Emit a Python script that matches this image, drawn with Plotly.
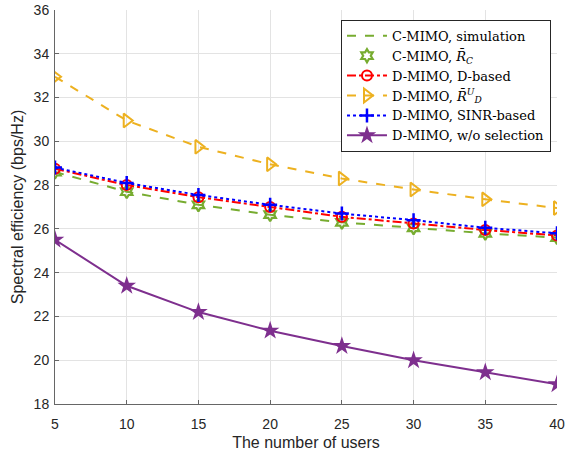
import plotly.graph_objects as go

users = [5, 10, 15, 20, 25, 30, 35, 40]
cmimo_sim = [28.6, 27.7, 27.1, 26.65, 26.3, 26.05, 25.8, 25.6]
cmimo_rc = [28.6, 27.7, 27.1, 26.65, 26.3, 26.05, 25.8, 25.6]
dmimo_d = [28.75, 28.0, 27.45, 27.0, 26.55, 26.25, 25.95, 25.7]
dmimo_rdu = [32.95, 30.95, 29.75, 28.95, 28.3, 27.8, 27.35, 26.95]
dmimo_sinr = [28.8, 28.1, 27.55, 27.1, 26.7, 26.4, 26.05, 25.8]
dmimo_wo = [25.5, 23.4, 22.2, 21.35, 20.65, 20.0, 19.45, 18.9]

green = "#77AC30"
yellow = "#EDB120"
red = "#FF0000"
blue = "#0000FF"
purple = "#7E2F8E"

fig = go.Figure()
fig.add_trace(go.Scatter(x=users, y=cmimo_sim, mode="lines", name="C-MIMO, simulation",
                         line=dict(color=green, width=2, dash="dash")))
fig.add_trace(go.Scatter(x=users, y=cmimo_rc, mode="markers", name="C-MIMO, <i>R̄</i><sub><i>C</i></sub>",
                         marker=dict(symbol="hexagram-open", size=10, color=green, line=dict(width=2.2, color=green))))
fig.add_trace(go.Scatter(x=users, y=dmimo_d, mode="lines+markers", name="D-MIMO, D-based",
                         line=dict(color=red, width=2, dash="dashdot"),
                         marker=dict(symbol="circle-open", size=10, color=red, line=dict(width=2, color=red))))
fig.add_trace(go.Scatter(x=users, y=dmimo_rdu, mode="lines+markers", name="D-MIMO, <i>R̄</i><sup><i>U</i></sup><sub><i>D</i></sub>",
                         line=dict(color=yellow, width=2, dash="dash"),
                         marker=dict(symbol="triangle-right-open", size=12, color=yellow, line=dict(width=2, color=yellow))))
fig.add_trace(go.Scatter(x=users, y=dmimo_sinr, mode="lines+markers", name="D-MIMO, SINR-based",
                         line=dict(color=blue, width=2, dash="dot"),
                         marker=dict(symbol="cross-thin-open", size=10, color=blue, line=dict(width=2.5, color=blue))))
fig.add_trace(go.Scatter(x=users, y=dmimo_wo, mode="lines+markers", name="D-MIMO, w/o selection",
                         line=dict(color=purple, width=2),
                         marker=dict(symbol="star", size=14, color=purple)))

axis_common = dict(showgrid=True, gridcolor="#E3E3E3", gridwidth=1, showline=True,
                   linecolor="#666666", linewidth=1, mirror=False, ticks="inside",
                   ticklen=4, tickcolor="#666666", zeroline=False, automargin=False,
                   ticklabeloverflow="allow",
                   tickfont=dict(family="Liberation Sans, Arial", size=14, color="#262626"))

fig.update_xaxes(range=[5, 40], tickvals=[5, 10, 15, 20, 25, 30, 35, 40],
                 ticklabelstandoff=7,
                 title=dict(text="The number of users", font=dict(family="Liberation Sans, Arial", size=16, color="#262626"), standoff=6),
                 **axis_common)
fig.update_yaxes(range=[18, 36], tickvals=list(range(18, 37, 2)),
                 ticklabelstandoff=2,
                 title=dict(text="Spectral efficiency (bps/Hz)", font=dict(family="Liberation Sans, Arial", size=16, color="#262626"), standoff=6),
                 **axis_common)

fig.update_layout(
    width=565, height=458,
    margin=dict(l=55, r=8, t=10, b=54),
    plot_bgcolor="white", paper_bgcolor="white",
    showlegend=True,
    legend=dict(x=0.988, y=0.975, xanchor="right", yanchor="top",
                bgcolor="white", bordercolor="#262626", borderwidth=1,
                font=dict(family="DejaVu Serif", size=13, color="#000000"),
                tracegroupgap=0, itemwidth=40),
)

fig.write_html("out.html")
